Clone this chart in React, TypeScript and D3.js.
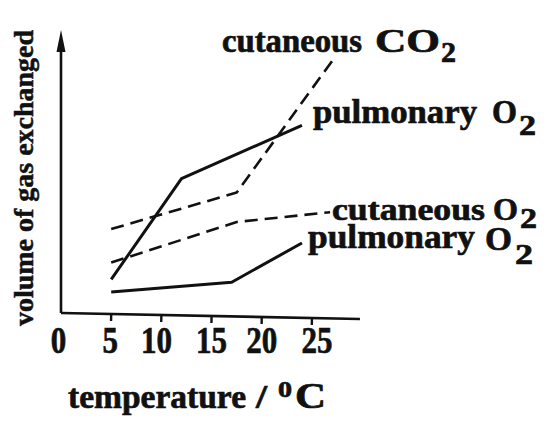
import React from "react";
import * as d3 from "d3";

// temperature (°C) and relative volume of gas exchanged (arbitrary units 0-100)
const pulmUpperTemps = [5, 12, 24];
const pulmUpperValues = [12, 48, 67];
const pulmLowerTemps = [5, 17, 24];
const pulmLowerValues = [7.5, 11, 25];
const cutCO2Temps = [5, 17.5, 27];
const cutCO2Values = [30, 43, 90];
const cutO2Temps = [5, 17.5, 26.8];
const cutO2Values = [18, 32.5, 36];
const xTicks = [0, 5, 10, 15, 20, 25];
const tickNudge = [-2.5, -1, -5, 0, 0, 5];

const W = 557;
const H = 428;
const FONT = "'Liberation Serif', 'Times New Roman', serif";

export default function App() {
  const x = d3.scaleLinear().domain([0, 25]).range([61, 312]);
  const y = d3.scaleLinear().domain([0, 100]).range([313, 33]);
  const line = d3
    .line<[number, number]>()
    .x((d) => x(d[0]))
    .y((d) => y(d[1]));
  const mk = (t: number[], v: number[]) => line(t.map((tt, i) => [tt, v[i]]) as [number, number][]) || "";

  const x0 = x(0);
  const y0 = y(0);
  const xEnd = 360;
  const slope = Math.atan2(6, xEnd - x0) * (180 / Math.PI);

  const common = { fill: "none", stroke: "#111", strokeWidth: 3, strokeLinejoin: "round" as const, strokeLinecap: "butt" as const };
  const sa = "spacingAndGlyphs";
  const heavy = { fill: "#111", stroke: "#111", strokeWidth: 0.7 };

  return (
    <svg width={W} height={H} style={{ position: "absolute", left: 0, top: 0, background: "#fff" }} fontFamily={FONT} fontWeight="bold">
      <rect width={W} height={H} fill="#fff" />
      {/* y axis with arrow */}
      <line x1={x0} y1={y0} x2={x0} y2={45} stroke="#111" strokeWidth={2.6} />
      <path d={`M${x0},30 L${x0 - 4.5},52 L${x0 + 4.5},52 Z`} fill="#111" />
      {/* x axis (slightly tilted as in the scan) */}
      <g transform={`rotate(${slope}, ${x0}, ${y0})`}>
        <line x1={x0} y1={y0} x2={xEnd} y2={y0} stroke="#111" strokeWidth={2.6} />
        {xTicks.filter((t) => t > 0).map((t) => (
          <line key={t} x1={x(t)} x2={x(t)} y1={y0} y2={y0 + 7} stroke="#111" strokeWidth={2.4} />
        ))}
      </g>
      {xTicks.map((t, i) => (
        <text
          key={t}
          x={x(t) + tickNudge[i]}
          y={353}
          fontSize={38}
          textAnchor="middle"
          {...heavy}
          textLength={String(t).length * 15.5}
          lengthAdjust={sa}
        >
          {t}
        </text>
      ))}
      {/* axis titles */}
      <text x={68} y={408} fontSize={34} {...heavy}>
        <tspan textLength={178} lengthAdjust={sa}>temperature</tspan>
        <tspan x={256} textLength={11} lengthAdjust={sa}>/</tspan>
        <tspan x={278} y={397} fontSize={23} textLength={14} lengthAdjust={sa}>0</tspan>
        <tspan x={295} y={408} fontSize={35} textLength={31} lengthAdjust={sa}>C</tspan>
      </text>
      <text transform="translate(33,178) rotate(-90)" textAnchor="middle" fontSize={28} {...heavy} strokeWidth={0.5} textLength={296} lengthAdjust={sa}>
        volume of gas exchanged
      </text>

      {/* series */}
      <path d={mk(pulmUpperTemps, pulmUpperValues)} {...common} />
      <path d={mk(pulmLowerTemps, pulmLowerValues)} {...common} />
      <path d={mk(cutCO2Temps, cutCO2Values)} {...common} strokeWidth={2.6} strokeDasharray="13 7" />
      <path d={mk(cutO2Temps, cutO2Values)} {...common} strokeWidth={2.6} strokeDasharray="13 7" />

      {/* labels */}
      <text x={222} y={52} fontSize={33} {...heavy}>
        <tspan textLength={140} lengthAdjust={sa}>cutaneous</tspan>
        <tspan x={375} fontSize={34} textLength={65} lengthAdjust={sa}>CO</tspan>
        <tspan x={441} y={62} fontSize={30} textLength={15} lengthAdjust={sa}>2</tspan>
      </text>
      <text x={313} y={123} fontSize={34} {...heavy}>
        <tspan textLength={164} lengthAdjust={sa}>pulmonary</tspan>
        <tspan x={492} fontSize={33} textLength={25} lengthAdjust={sa}>O</tspan>
        <tspan x={519} y={135} fontSize={30} textLength={17} lengthAdjust={sa}>2</tspan>
      </text>
      <text x={332} y={220} fontSize={32} {...heavy}>
        <tspan textLength={153} lengthAdjust={sa}>cutaneous</tspan>
        <tspan x={493} fontSize={32} textLength={25} lengthAdjust={sa}>O</tspan>
        <tspan x={520} y={228} fontSize={29} textLength={17} lengthAdjust={sa}>2</tspan>
      </text>
      <text x={308} y={248} fontSize={33} {...heavy}>
        <tspan textLength={167} lengthAdjust={sa}>pulmonary</tspan>
        <tspan x={485} y={250} fontSize={33} textLength={27} lengthAdjust={sa}>O</tspan>
        <tspan x={515} y={264} fontSize={30} textLength={18} lengthAdjust={sa}>2</tspan>
      </text>
    </svg>
  );
}
